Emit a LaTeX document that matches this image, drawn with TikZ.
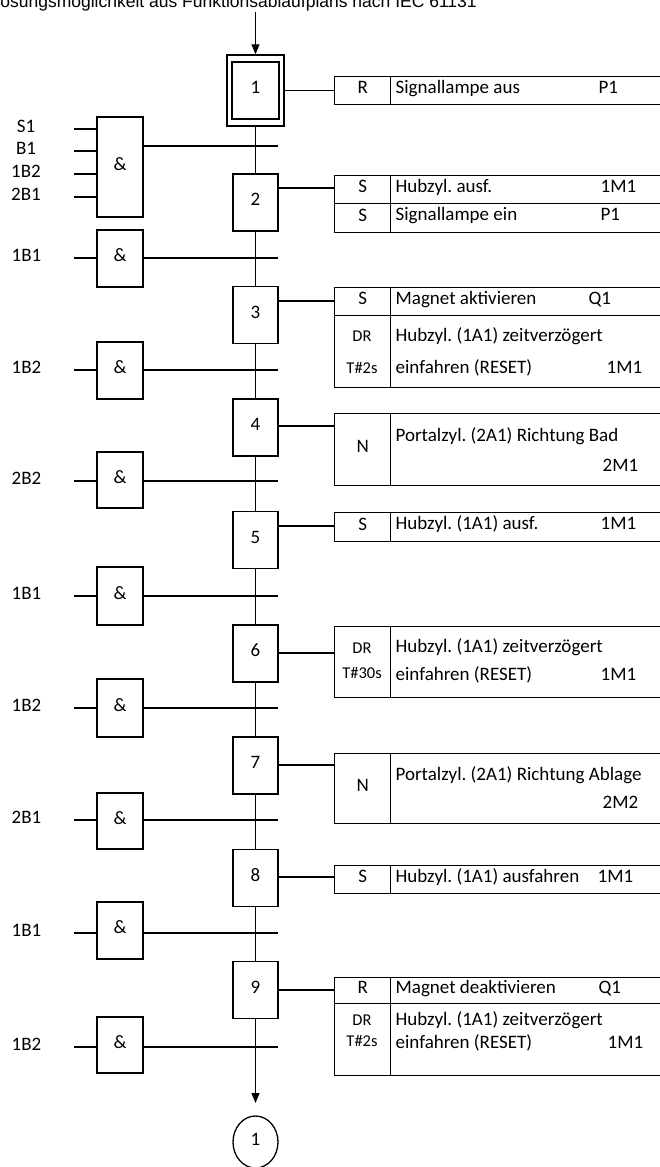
\documentclass[tikz,border=0pt]{standalone}
\usepackage{fontspec}
\setmainfont{Carlito}
\newfontfamily\titlefont{Liberation Sans}
\usetikzlibrary{arrows.meta,shapes.geometric}
\frenchspacing
\begin{document}
\begin{tikzpicture}[x=1pt,y=-1pt,line width=1.3pt,
  every node/.style={inner sep=0pt,font=\fontsize{19}{21}\selectfont},
  ctxt/.style={text height=0.8em,text depth=0.16em},
  txt/.style={ctxt,anchor=west},
  small/.style={ctxt,font=\fontsize{16.5}{18}\selectfont},
  stepbox/.style={draw,line width=1.5pt,minimum width=45pt,minimum height=57pt,fill=white,ctxt},
  gate/.style={draw,line width=1.5pt,minimum width=46pt,ctxt},
  qcell/.style={draw,line width=1.4pt,anchor=north west,minimum width=56pt,ctxt},
  dcell/.style={draw,line width=1.4pt,anchor=north west,minimum width=272pt},
  thk/.style={line width=2.2pt},
  tip/.style={-{Triangle[length=10pt,width=8pt]}}]
\useasboundingbox (0,0) rectangle (660,1167);
\clip (0,0) rectangle (660,1167);

% title (cut off at the top of the page, as in the original)
\node[anchor=base west,font=\titlefont\fontsize{17.5}{20}\selectfont] (title) at (-10,8)
  {Lösungsmöglichkeit aus Funktionsablaufplans nach IEC 61131};

% steps
\node[stepbox,minimum width=57pt,minimum height=71pt] (s1o) at (255.5,90.5) {};
\node[stepbox,minimum width=47pt,minimum height=57pt] (s1) at (255.5,90.5) {1};
\foreach \n/\y in {2/202.5,3/315,4/427.5,5/540,6/653.5,7/765.5,8/878,9/990}
  \node[stepbox] (s\n) at (255.5,\y) {\n};

\coordinate (start) at (255.5,12);
\draw[tip] (start) -- (s1o.north);
\draw (s1o.south) -- (s2.north);
\foreach \a/\b in {2/3,3/4,4/5,5/6,6/7,7/8,8/9}
  \draw (s\a.south) -- (s\b.north);
\node[draw,ellipse,minimum width=45pt,minimum height=52pt,ctxt] (end) at (255.5,1142) {1};
\coordinate (tipend) at (255.5,1103);
\draw[tip] (s9.south) -- (tipend);

% first transition (AND with four inputs)
\node[gate,minimum height=100pt] (g1) at (120,167) {\&};
\foreach \y/\lab/\w [count=\k] in {129/S1/2.2,151/B1/1.3,174/1B2/1.3,197/2B1/2.2}{
  \node[ctxt] (l1\k) at (26,\y) {\lab};
  \coordinate (i1\k) at (74,\y);
  \draw[line width=\w pt] (i1\k) -- (g1.west |- i1\k);
}
\coordinate (t1) at (278,146);
\draw (g1.east |- t1) -- (t1);

% other transitions
\foreach \n/\yc/\h/\io/\lab/\wi/\wo in {
  2/258.5/57/258/1B1/1.3/1.5,
  3/370.5/57/370/1B2/1.3/1.3,
  4/480/56/481/2B2/1.3/1.7,
  5/596/58/596/1B1/1.3/1.5,
  6/708/58/708/1B2/1.3/1.5,
  7/821/56/820/2B1/1.3/2.2,
  8/930.5/57/933/1B1/2.2/1.2,
  9/1045/56/1047/1B2/1.3/1.3}{
  \node[gate,minimum height=\h pt] (g\n) at (120,\yc) {\&};
  \node[ctxt] (l\n) at (26.5,\io) {\lab};
  \coordinate (i\n) at (74,\io);
  \coordinate (t\n) at (278,\io);
  \draw[line width=\wi pt] (i\n) -- (g\n.west |- i\n);
  \draw[line width=\wo pt] (g\n.east |- t\n) -- (t\n);
}

% action 1
\node[qcell,minimum height=28pt] (a1q) at (334,76) {R};
\node[dcell,minimum height=28pt] (a1d) at (390,76) {};
\node[txt] (a1t) at (395,90) {Signallampe aus};
\node[txt] (a1o) at (598,90) {P1};
\draw (s1o.east |- a1q.west) -- (a1q.west);

% action 2
\node[qcell,minimum height=28pt] (a2q1) at (334,175) {S};
\node[dcell,minimum height=28pt] (a2d1) at (390,175) {};
\node[qcell,minimum height=29pt] (a2q2) at (334,203) {S};
\node[dcell,minimum height=29pt] (a2d2) at (390,203) {};
\node[txt] (a2t1) at (395,189) {Hubzyl. ausf.};
\node[txt] (a2o1) at (600,189) {1M1};
\node[txt] (a2t2) at (395,217.5) {Signallampe ein};
\node[txt] (a2o2) at (600,217.5) {P1};
\draw (s2.east |- 0,188) -- (a2q1.west |- 0,188);

% action 3
\node[qcell,minimum height=28pt] (a3q1) at (334,287) {S};
\node[dcell,minimum height=28pt] (a3d1) at (390,287) {};
\node[txt] (a3t1) at (395,301) {Magnet aktivieren};
\node[txt] (a3o1) at (588,301) {Q1};
\node[qcell,minimum height=72pt] (a3q2) at (334,315) {};
\node[dcell,minimum height=72pt] (a3d2) at (390,315) {};
\node[small] (a3k1) at (362,338) {DR};
\node[small] (a3k2) at (362,370) {T\#2s};
\node[txt] (a3t2) at (395,338) {Hubzyl. (1A1) zeitverzögert};
\node[txt] (a3t3) at (395,370) {einfahren (RESET)};
\node[txt] (a3o2) at (606,370) {1M1};
\draw[thk] (s3.east |- 0,301) -- (a3q1.west |- 0,301);

% action 4
\node[qcell,minimum height=72pt] (a4q) at (334,413) {N};
\node[dcell,minimum height=72pt] (a4d) at (390,413) {};
\node[txt] (a4t) at (395,438) {Portalzyl. (2A1) Richtung Bad};
\node[txt] (a4o) at (602,468) {2M1};
\draw (s4.east |- 0,426) -- (a4q.west |- 0,426);

% action 5
\node[qcell,minimum height=29pt] (a5q) at (334,512) {S};
\node[dcell,minimum height=29pt] (a5d) at (390,512) {};
\node[txt] (a5t) at (395,526.5) {Hubzyl. (1A1) ausf.};
\node[txt] (a5o) at (600,526.5) {1M1};
\draw (s5.east |- 0,526) -- (a5q.west |- 0,526);

% action 6
\node[qcell,minimum height=71pt] (a6q) at (334,626) {};
\node[dcell,minimum height=71pt] (a6d) at (390,626) {};
\node[small] (a6k1) at (362,650) {DR};
\node[small] (a6k2) at (362,675) {T\#30s};
\node[txt] (a6t1) at (395,649) {Hubzyl. (1A1) zeitverzögert};
\node[txt] (a6t2) at (395,677) {einfahren (RESET)};
\node[txt] (a6o) at (600,677) {1M1};
\draw[thk] (s6.east |- 0,653) -- (a6q.west |- 0,653);

% action 7
\node[qcell,minimum height=70pt] (a7q) at (334,753) {N};
\node[dcell,minimum height=70pt] (a7d) at (390,753) {};
\node[txt] (a7t) at (395,777) {Portalzyl. (2A1) Richtung Ablage};
\node[txt] (a7o) at (602,805) {2M2};
\draw (s7.east |- 0,765) -- (a7q.west |- 0,765);

% action 8
\node[qcell,minimum height=28pt] (a8q) at (334,865) {S};
\node[dcell,minimum height=28pt] (a8d) at (390,865) {};
\node[txt] (a8t) at (395,879) {Hubzyl. (1A1) ausfahren};
\node[txt] (a8o) at (597,879) {1M1};
\draw (s8.east |- 0,877) -- (a8q.west |- 0,877);

% action 9
\node[qcell,minimum height=26pt] (a9q1) at (334,977) {R};
\node[dcell,minimum height=26pt] (a9d1) at (390,977) {};
\node[txt] (a9t1) at (395,990) {Magnet deaktivieren};
\node[txt] (a9o1) at (598,990) {Q1};
\node[qcell,minimum height=72pt] (a9q2) at (334,1003) {};
\node[dcell,minimum height=72pt] (a9d2) at (390,1003) {};
\node[small] (a9k1) at (362,1022) {DR};
\node[small] (a9k2) at (362,1043) {T\#2s};
\node[txt] (a9t2) at (395,1022) {Hubzyl. (1A1) zeitverzögert};
\node[txt] (a9t3) at (395,1045) {einfahren (RESET)};
\node[txt] (a9o2) at (607,1045) {1M1};
\draw (s9.east |- 0,990) -- (a9q1.west |- 0,990);
\end{tikzpicture}
\end{document}
